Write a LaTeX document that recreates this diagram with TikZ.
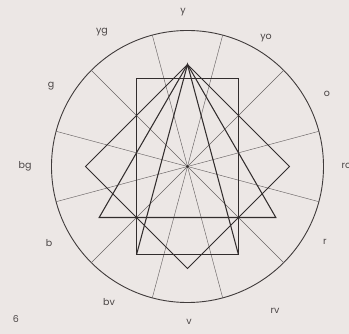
\documentclass[tikz,border=0pt]{standalone}
\usepackage{fontspec}
\setmainfont{Poppins}
\usetikzlibrary{calc}
\definecolor{bgc}{RGB}{236,231,229}
\definecolor{shapec}{RGB}{50,45,45}
\definecolor{circc}{RGB}{65,60,60}
\definecolor{spokec}{RGB}{105,100,100}
\definecolor{txtc}{RGB}{75,70,70}
\tikzset{
  figline/.style={draw=shapec, line width=1.05pt, line join=miter},
  circline/.style={draw=circc, line width=0.9pt},
  spokeline/.style={draw=spokec, line width=0.45pt},
  lbl/.style={text=txtc, font=\fontsize{9.5}{10}\selectfont, inner sep=0pt}
}
\begin{document}
\begin{tikzpicture}[x=1pt,y=1pt]
\useasboundingbox[fill=bgc] (0,0) rectangle (349,334);
\coordinate (C) at (187.5,167.5);
% outer circle
\node[circle, circline, minimum size=272pt, inner sep=0pt] (wheel) at (C) {};
% spokes
\foreach \a in {15,45,75,105,135,165}{
  \coordinate (s\a) at ($(C)+(\a:136)$);
  \coordinate (t\a) at ($(C)+(\a+180:136)$);
  \draw[spokeline] (s\a) -- (t\a);
}
% inner figures (inscribed in a circle of radius 102)
\coordinate (A) at ($(C)+(90:102)$);
\coordinate (DL) at ($(C)+(180:102)$);
\coordinate (DB) at ($(C)+(270:102)$);
\coordinate (DR) at ($(C)+(0:102)$);
\coordinate (TL) at ($(C)+(210:102)$);
\coordinate (TR) at ($(C)+(330:102)$);
\coordinate (R1) at ($(C)+(120:102)$);
\coordinate (R2) at ($(C)+(60:102)$);
\coordinate (R3) at ($(C)+(300:102)$);
\coordinate (R4) at ($(C)+(240:102)$);
\draw[figline] (R1) -- (R2) -- (R3) -- (R4) -- cycle;
\draw[figline] (A) -- (DR) -- (DB) -- (DL) -- cycle;
\draw[figline] (A) -- (TR) -- (TL) -- cycle;
\draw[figline] (R4) -- (A) -- (R3);
\fill[shapec] (C) circle (1.3pt);
% labels
\node[lbl] (ly)  at (183,322) {y};
\node[lbl] (lyo) at (266,296) {yo};
\node[lbl] (lo)  at (327,240) {o};
\node[lbl, anchor=west] (lro) at (341.5,168) {ro};
\node[lbl] (lr)  at (325,92) {r};
\node[lbl] (lrv) at (275,23) {rv};
\node[lbl] (lv)  at (189,12) {v};
\node[lbl] (lbv) at (109,32) {bv};
\node[lbl] (lb)  at (49,91) {b};
\node[lbl] (lbg) at (25,168) {bg};
\node[lbl] (lg)  at (51,248) {g};
\node[lbl] (lyg) at (102,302) {yg};
\node[lbl] (l6)  at (16,15) {6};
\end{tikzpicture}
\end{document}
